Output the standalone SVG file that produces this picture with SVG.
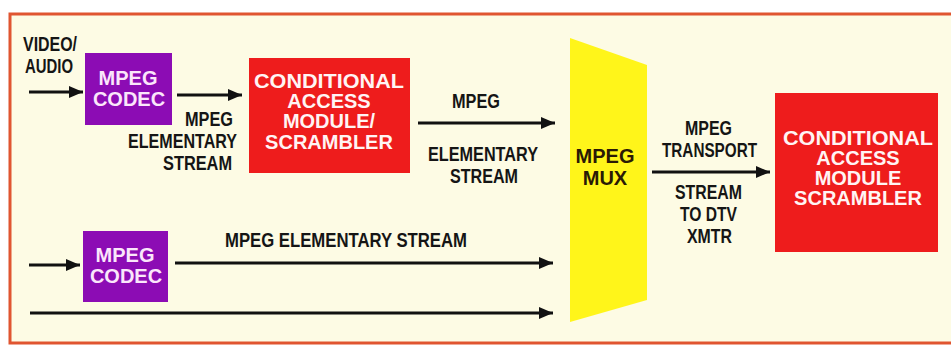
<svg xmlns="http://www.w3.org/2000/svg" width="951" height="349" viewBox="0 0 951 349">
<defs>
<marker id="ah" markerWidth="14" markerHeight="12" refX="14" refY="6" orient="auto" markerUnits="userSpaceOnUse">
<path d="M0,0 L14,6 L0,12 Z" fill="#111"/>
</marker>
<style>
.lbl{font-family:"Liberation Sans",Arial,sans-serif;font-weight:bold;font-size:20px;fill:#151515}
.box{font-family:"Liberation Sans",Arial,sans-serif;font-weight:bold;font-size:20px;text-anchor:middle}
.wt{fill:#fff4f4}
.pt{fill:#fbe6fb}
.dk{fill:#2a1a05}
.conn line{stroke:#111;stroke-width:3;marker-end:url(#ah)}
</style>
</defs>
<rect x="0" y="0" width="951" height="349" fill="#ffffff"/>
<rect x="10" y="14" width="960" height="329" fill="#fdfbe4" stroke="#e05530" stroke-width="3"/>

<g id="labels">
<text class="lbl" x="23" y="51" textLength="54" lengthAdjust="spacingAndGlyphs">VIDEO/</text>
<text class="lbl" x="25" y="73" textLength="48" lengthAdjust="spacingAndGlyphs">AUDIO</text>
<text class="lbl" x="185" y="126" textLength="48" lengthAdjust="spacingAndGlyphs">MPEG</text>
<text class="lbl" x="128" y="148" textLength="109" lengthAdjust="spacingAndGlyphs">ELEMENTARY</text>
<text class="lbl" x="163" y="170" textLength="69" lengthAdjust="spacingAndGlyphs">STREAM</text>
<text class="lbl" x="452" y="108" textLength="48" lengthAdjust="spacingAndGlyphs">MPEG</text>
<text class="lbl" x="428" y="161" textLength="110" lengthAdjust="spacingAndGlyphs">ELEMENTARY</text>
<text class="lbl" x="450" y="183" textLength="68" lengthAdjust="spacingAndGlyphs">STREAM</text>
<text class="lbl" x="225" y="247" textLength="242" lengthAdjust="spacingAndGlyphs">MPEG ELEMENTARY STREAM</text>
<text class="lbl" x="685" y="135" textLength="47" lengthAdjust="spacingAndGlyphs">MPEG</text>
<text class="lbl" x="662" y="157" textLength="95" lengthAdjust="spacingAndGlyphs">TRANSPORT</text>
<text class="lbl" x="675" y="199" textLength="67" lengthAdjust="spacingAndGlyphs">STREAM</text>
<text class="lbl" x="680" y="221" textLength="57" lengthAdjust="spacingAndGlyphs">TO DTV</text>
<text class="lbl" x="687" y="243" textLength="45" lengthAdjust="spacingAndGlyphs">XMTR</text>
</g>

<g id="codec1">
<rect x="85" y="53" width="87" height="72" fill="#8c0cb4"/>
<text class="box pt" x="128" y="85">MPEG</text>
<text class="box pt" x="129" y="106">CODEC</text>
</g>

<g id="cam1">
<rect x="249" y="58" width="161" height="115" fill="#ee1c1c"/>
<text class="box wt" x="329" y="88" textLength="150" lengthAdjust="spacingAndGlyphs">CONDITIONAL</text>
<text class="box wt" x="329" y="108">ACCESS</text>
<text class="box wt" x="329" y="128">MODULE/</text>
<text class="box wt" x="329" y="149">SCRAMBLER</text>
</g>

<g id="mux">
<polygon points="570,38 647,65 647,300 570,322" fill="#fff51a"/>
<text class="box dk" x="605" y="163">MPEG</text>
<text class="box dk" x="605" y="185">MUX</text>
</g>

<g id="cam2">
<rect x="775" y="93" width="163" height="159" fill="#ee1c1c"/>
<text class="box wt" x="858" y="145" textLength="150" lengthAdjust="spacingAndGlyphs">CONDITIONAL</text>
<text class="box wt" x="858" y="165">ACCESS</text>
<text class="box wt" x="858" y="185">MODULE</text>
<text class="box wt" x="858" y="205">SCRAMBLER</text>
</g>

<g id="codec2">
<rect x="83" y="231" width="85" height="71" fill="#8c0cb4"/>
<text class="box pt" x="125" y="262">MPEG</text>
<text class="box pt" x="126" y="283">CODEC</text>
</g>

<g class="conn" id="connectors">
<line x1="29" y1="92" x2="83" y2="92"/>
<line x1="177" y1="95" x2="242" y2="95"/>
<line x1="418" y1="123" x2="555" y2="123"/>
<line x1="652" y1="172" x2="770" y2="172"/>
<line x1="29" y1="265" x2="80" y2="265"/>
<line x1="175" y1="263" x2="553" y2="263"/>
<line x1="30" y1="313" x2="553" y2="313"/>
</g>
</svg>
